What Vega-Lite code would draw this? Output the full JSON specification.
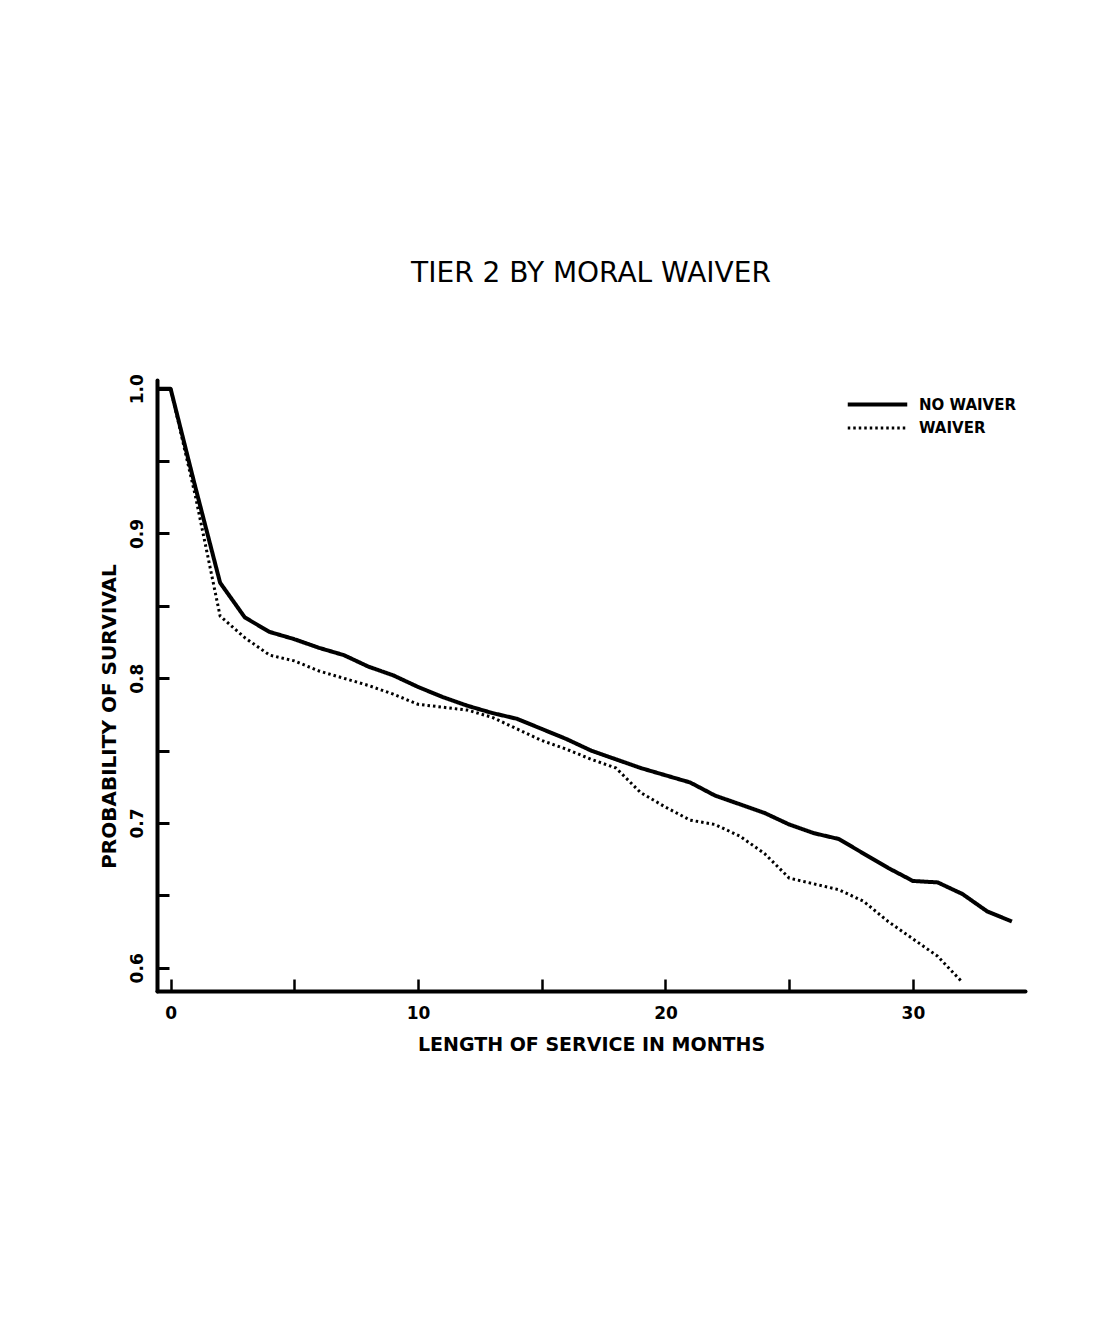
{
  "$schema": "https://vega.github.io/schema/vega-lite/v6.json",
  "width": 868,
  "height": 611,
  "autosize": {"type": "none"},
  "padding": {"left": 157, "top": 380, "right": 85, "bottom": 349},
  "background": "white",
  "config": {"view": {"stroke": null}, "font": "DejaVu Sans"},
  "title": {"text": "TIER 2 BY MORAL WAIVER", "fontSize": 28, "fontWeight": "normal", "offset": 86, "anchor": "middle", "color": "black", "font": "DejaVu Sans"},
  "data": {"values": [
    {"m": -0.5, "p": 1.0, "g": "NO WAIVER"},
    {"m": 0, "p": 1.0, "g": "NO WAIVER"},
    {"m": 1, "p": 0.932, "g": "NO WAIVER"},
    {"m": 2, "p": 0.866, "g": "NO WAIVER"},
    {"m": 3, "p": 0.842, "g": "NO WAIVER"},
    {"m": 4, "p": 0.832, "g": "NO WAIVER"},
    {"m": 5, "p": 0.827, "g": "NO WAIVER"},
    {"m": 6, "p": 0.821, "g": "NO WAIVER"},
    {"m": 7, "p": 0.816, "g": "NO WAIVER"},
    {"m": 8, "p": 0.808, "g": "NO WAIVER"},
    {"m": 9, "p": 0.802, "g": "NO WAIVER"},
    {"m": 10, "p": 0.794, "g": "NO WAIVER"},
    {"m": 11, "p": 0.787, "g": "NO WAIVER"},
    {"m": 12, "p": 0.781, "g": "NO WAIVER"},
    {"m": 13, "p": 0.776, "g": "NO WAIVER"},
    {"m": 14, "p": 0.772, "g": "NO WAIVER"},
    {"m": 15, "p": 0.765, "g": "NO WAIVER"},
    {"m": 16, "p": 0.758, "g": "NO WAIVER"},
    {"m": 17, "p": 0.750, "g": "NO WAIVER"},
    {"m": 18, "p": 0.744, "g": "NO WAIVER"},
    {"m": 19, "p": 0.738, "g": "NO WAIVER"},
    {"m": 20, "p": 0.733, "g": "NO WAIVER"},
    {"m": 21, "p": 0.728, "g": "NO WAIVER"},
    {"m": 22, "p": 0.719, "g": "NO WAIVER"},
    {"m": 23, "p": 0.713, "g": "NO WAIVER"},
    {"m": 24, "p": 0.707, "g": "NO WAIVER"},
    {"m": 25, "p": 0.699, "g": "NO WAIVER"},
    {"m": 26, "p": 0.693, "g": "NO WAIVER"},
    {"m": 27, "p": 0.689, "g": "NO WAIVER"},
    {"m": 28, "p": 0.679, "g": "NO WAIVER"},
    {"m": 29, "p": 0.669, "g": "NO WAIVER"},
    {"m": 30, "p": 0.660, "g": "NO WAIVER"},
    {"m": 31, "p": 0.659, "g": "NO WAIVER"},
    {"m": 32, "p": 0.651, "g": "NO WAIVER"},
    {"m": 33, "p": 0.639, "g": "NO WAIVER"},
    {"m": 34, "p": 0.632, "g": "NO WAIVER"},
    {"m": 0, "p": 1.0, "g": "WAIVER"},
    {"m": 1, "p": 0.926, "g": "WAIVER"},
    {"m": 2, "p": 0.843, "g": "WAIVER"},
    {"m": 3, "p": 0.828, "g": "WAIVER"},
    {"m": 4, "p": 0.816, "g": "WAIVER"},
    {"m": 5, "p": 0.812, "g": "WAIVER"},
    {"m": 6, "p": 0.805, "g": "WAIVER"},
    {"m": 7, "p": 0.800, "g": "WAIVER"},
    {"m": 8, "p": 0.795, "g": "WAIVER"},
    {"m": 9, "p": 0.789, "g": "WAIVER"},
    {"m": 10, "p": 0.782, "g": "WAIVER"},
    {"m": 11, "p": 0.780, "g": "WAIVER"},
    {"m": 12, "p": 0.778, "g": "WAIVER"},
    {"m": 13, "p": 0.773, "g": "WAIVER"},
    {"m": 14, "p": 0.765, "g": "WAIVER"},
    {"m": 15, "p": 0.757, "g": "WAIVER"},
    {"m": 16, "p": 0.751, "g": "WAIVER"},
    {"m": 17, "p": 0.744, "g": "WAIVER"},
    {"m": 18, "p": 0.738, "g": "WAIVER"},
    {"m": 19, "p": 0.721, "g": "WAIVER"},
    {"m": 20, "p": 0.711, "g": "WAIVER"},
    {"m": 21, "p": 0.702, "g": "WAIVER"},
    {"m": 22, "p": 0.699, "g": "WAIVER"},
    {"m": 23, "p": 0.691, "g": "WAIVER"},
    {"m": 24, "p": 0.679, "g": "WAIVER"},
    {"m": 25, "p": 0.662, "g": "WAIVER"},
    {"m": 26, "p": 0.658, "g": "WAIVER"},
    {"m": 27, "p": 0.654, "g": "WAIVER"},
    {"m": 28, "p": 0.646, "g": "WAIVER"},
    {"m": 29, "p": 0.632, "g": "WAIVER"},
    {"m": 30, "p": 0.620, "g": "WAIVER"},
    {"m": 31, "p": 0.608, "g": "WAIVER"},
    {"m": 32, "p": 0.590, "g": "WAIVER"}
  ]},
  "mark": {"type": "line", "color": "black", "interpolate": "linear", "strokeJoin": "round"},
  "encoding": {
    "x": {
      "field": "m", "type": "quantitative",
      "scale": {"domain": [-0.55, 34.53], "nice": false, "zero": false},
      "axis": {
        "values": [0, 5, 10, 15, 20, 25, 30],
        "labelExpr": "datum.value % 10 == 0 ? datum.label : ''",
        "grid": false,
        "domainColor": "black", "domainWidth": 4, "domainCap": "round",
        "tickColor": "black", "tickWidth": 2.5, "tickSize": -12,
        "labelColor": "black", "labelFont": "DejaVu Sans", "labelFontSize": 17, "labelFontWeight": "bold",
        "labelPadding": 26, "labelBaseline": "top",
        "title": "LENGTH OF SERVICE IN MONTHS",
        "titleColor": "black", "titleFont": "DejaVu Sans", "titleFontSize": 19, "titleFontWeight": "bold",
        "titleBaseline": "alphabetic", "titleY": 59, "titleX": 434, "titleAlign": "center"
      }
    },
    "y": {
      "field": "p", "type": "quantitative",
      "scale": {"domain": [0.584, 1.006], "nice": false, "zero": false},
      "axis": {
        "values": [0.6, 0.65, 0.7, 0.75, 0.8, 0.85, 0.9, 0.95, 1.0],
        "labelExpr": "round(datum.value * 100) % 10 == 0 ? format(datum.value, '.1f') : ''",
        "grid": false,
        "domainColor": "black", "domainWidth": 4, "domainCap": "round",
        "tickColor": "black", "tickWidth": 3, "tickSize": -12,
        "labelColor": "black", "labelFont": "DejaVu Sans", "labelFontSize": 17, "labelFontWeight": "bold",
        "labelAngle": -90, "labelAlign": "center", "labelBaseline": "bottom", "labelPadding": 23,
        "title": "PROBABILITY OF SURVIVAL",
        "titleColor": "black", "titleFont": "DejaVu Sans", "titleFontSize": 20, "titleFontWeight": "bold",
        "titleAngle": -90, "titleBaseline": "alphabetic", "titleAlign": "center", "titleX": -42, "titleY": 336
      }
    },
    "strokeDash": {
      "field": "g", "type": "nominal",
      "scale": {"domain": ["NO WAIVER", "WAIVER"], "range": [[1, 0], [2.5, 3]]},
      "legend": {
        "orient": "none", "legendX": 710, "legendY": 14, "title": null,
        "symbolType": "M-3.5,0H3.5", "symbolSize": 289, "symbolStrokeColor": "black",
        "labelFont": "DejaVu Sans", "labelFontSize": 15, "labelFontWeight": "bold", "labelColor": "black",
        "labelOffset": 31, "rowPadding": 5, "padding": 0
      }
    },
    "strokeWidth": {
      "field": "g", "type": "nominal",
      "scale": {"domain": ["NO WAIVER", "WAIVER"], "range": [4, 3]},
      "legend": {
        "orient": "none", "legendX": 710, "legendY": 14, "title": null,
        "symbolType": "M-3.5,0H3.5", "symbolSize": 289, "symbolStrokeColor": "black",
        "labelFont": "DejaVu Sans", "labelFontSize": 15, "labelFontWeight": "bold", "labelColor": "black",
        "labelOffset": 31, "rowPadding": 5, "padding": 0
      }
    }
  }
}
